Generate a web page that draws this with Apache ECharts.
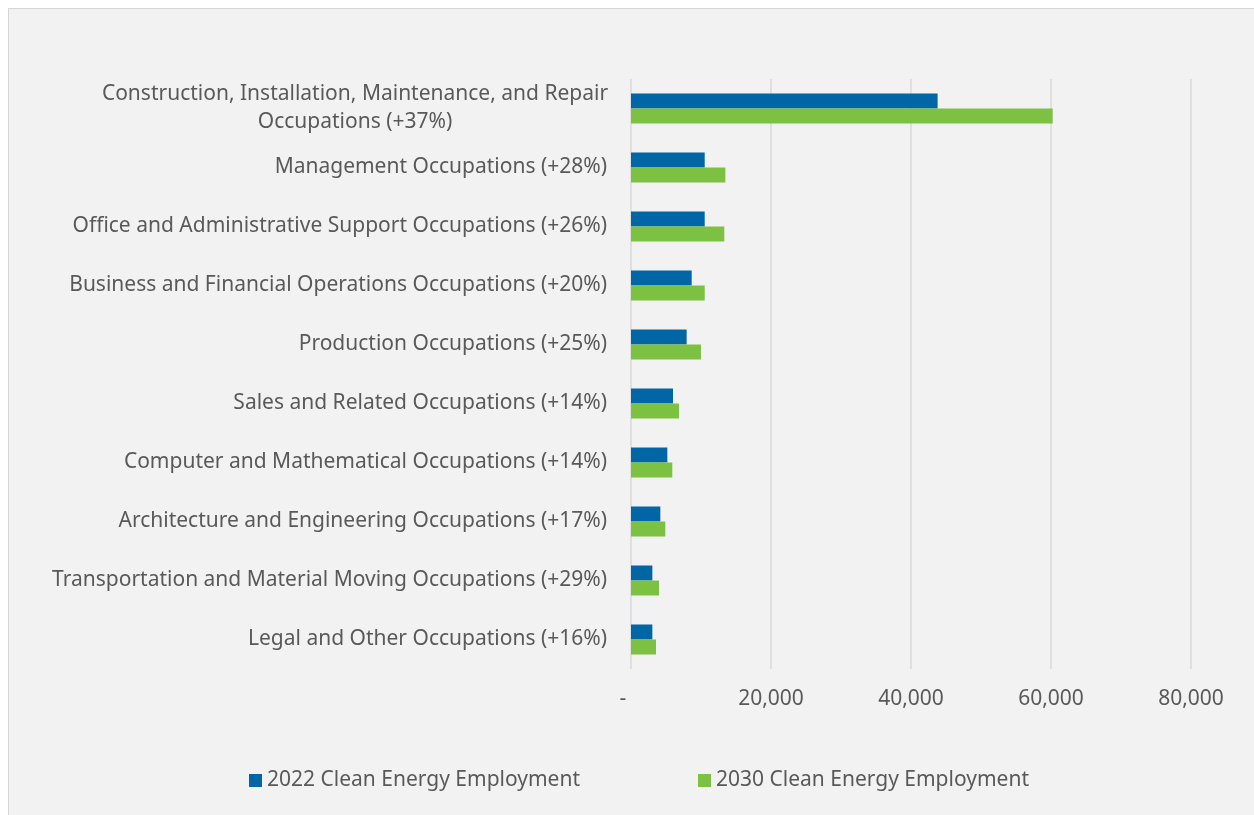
<!DOCTYPE html>
<html>
<head>
<meta charset="utf-8">
<title>Clean Energy Employment by Occupation</title>
<script src="https://cdn.jsdelivr.net/npm/echarts@6/dist/echarts.min.js"></script>
<style>
    html, body { margin: 0; padding: 0; background: #ffffff; }
    #box {
        position: absolute; left: 8px; top: 8px;
        width: 1260px; height: 820px;
        background: #f2f2f2; border: 1px solid #d6d6d6;
    }
    #chart { width: 1260px; height: 820px; }
</style>
</head>
<body>
<div id="box"><div id="chart"></div></div>
<script>
    // categories, top to bottom
    var categories = [
        'Construction, Installation, Maintenance, and Repair\nOccupations (+37%)',
        'Management Occupations (+28%)',
        'Office and Administrative Support Occupations (+26%)',
        'Business and Financial Operations Occupations (+20%)',
        'Production Occupations (+25%)',
        'Sales and Related Occupations (+14%)',
        'Computer and Mathematical Occupations (+14%)',
        'Architecture and Engineering Occupations (+17%)',
        'Transportation and Material Moving Occupations (+29%)',
        'Legal and Other Occupations (+16%)'
    ];
    var seriesNames = ['2022 Clean Energy Employment', '2030 Clean Energy Employment'];
    var emp2022 = [43800, 10530, 10530, 8670, 7950, 6000, 5190, 4190, 3050, 3050];
    var emp2030 = [60240, 13480, 13330, 10530, 10000, 6860, 5900, 4900, 4000, 3570];
    var xTicks = [0, 20000, 40000, 60000, 80000];

    var textColor = '#595959';
    var font = 'Noto Sans';
    var fs = 21;

    var myChart = echarts.init(document.getElementById('chart'));
    myChart.setOption({
        backgroundColor: '#f2f2f2',
        animation: false,
        grid: { left: 622, right: 78, top: 70, bottom: 160, containLabel: false },
        legend: {
            data: seriesNames,
            bottom: 33,
            left: 'center',
            icon: 'rect',
            itemWidth: 13,
            itemHeight: 13,
            itemGap: 118,
            textStyle: { color: textColor, fontSize: fs, fontFamily: font }
        },
        xAxis: {
            type: 'value',
            min: xTicks[0],
            max: xTicks[xTicks.length - 1],
            interval: xTicks[1] - xTicks[0],
            axisLine: { show: false },
            axisTick: { show: false },
            splitLine: { show: true, lineStyle: { color: '#d9d9d9', width: 1.5 } },
            axisLabel: {
                color: textColor, fontSize: fs, fontFamily: font, margin: 20,
                formatter: function (v) {
                    if (v === 0) return '-   ';
                    return v.toLocaleString('en-US');
                }
            }
        },
        yAxis: {
            type: 'category',
            data: categories,
            inverse: true,
            axisLine: { show: false },
            axisTick: { show: false },
            axisLabel: {
                color: textColor, fontSize: fs, fontFamily: font, margin: 24,
                lineHeight: 28,
                formatter: function (v) {
                    if (v.indexOf('\n') < 0) return v;
                    var parts = v.split('\n');
                    return '{c|' + parts[0] + '}\n{c|' + parts[1] + '}';
                },
                rich: {
                    c: { width: 504, align: 'center', color: textColor, fontSize: fs, fontFamily: font, lineHeight: 28 }
                }
            }
        },
        series: [
            {
                name: seriesNames[0],
                type: 'bar',
                data: emp2022,
                barWidth: 15,
                barGap: '0%',
                itemStyle: { color: '#0066a6' }
            },
            {
                name: seriesNames[1],
                type: 'bar',
                data: emp2030,
                barWidth: 15,
                barGap: '0%',
                itemStyle: { color: '#7dc142' }
            }
        ]
    });
</script>
</body>
</html>
